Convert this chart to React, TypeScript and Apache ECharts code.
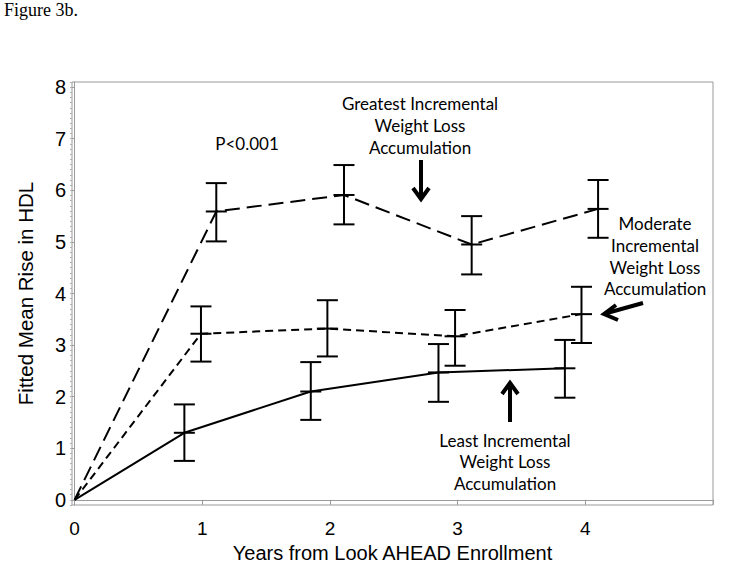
import React, { useEffect, useRef } from "react";
import * as echarts from "echarts";

// Years (x, slightly offset per group as in the original), fitted means and 95% limits
const greatestX = [1.11, 2.11, 3.11, 4.1];
const greatestMean = [5.59, 5.91, 4.95, 5.64];
const greatestLow = [5.01, 5.34, 4.37, 5.08];
const greatestHigh = [6.14, 6.49, 5.5, 6.2];

const moderateX = [0.99, 1.98, 2.98, 3.97];
const moderateMean = [3.22, 3.32, 3.17, 3.6];
const moderateLow = [2.68, 2.78, 2.6, 3.04];
const moderateHigh = [3.75, 3.87, 3.68, 4.13];

const leastX = [0.86, 1.85, 2.85, 3.84];
const leastMean = [1.3, 2.1, 2.47, 2.55];
const leastLow = [0.755, 1.55, 1.9, 1.98];
const leastHigh = [1.85, 2.67, 3.02, 3.1];

const xTicks = [0, 1, 2, 3, 4, 5];
const xLabels = [0, 1, 2, 3, 4];
const yTicks = [0, 1, 2, 3, 4, 5, 6, 7, 8];

const lineData = (xs: number[], ms: number[]) => [[0, 0], ...xs.map((x, i) => [x, ms[i]])];
const barData = (xs: number[], lo: number[], hi: number[], ms: number[]) =>
  xs.map((x, i) => [x, lo[i], hi[i], ms[i]]);

const renderBar = (params: any, api: any) => {
  const x = api.value(0);
  const top = api.coord([x, api.value(2)]);
  const bot = api.coord([x, api.value(1)]);
  const mid = api.coord([x, api.value(3)]);
  const hw = 10.5;
  const st = { stroke: "#000", lineWidth: 2 };
  return {
    type: "group",
    children: [
      { type: "line", shape: { x1: top[0], y1: top[1], x2: bot[0], y2: bot[1] }, style: st },
      { type: "line", shape: { x1: top[0] - hw, y1: top[1], x2: top[0] + hw, y2: top[1] }, style: st },
      { type: "line", shape: { x1: bot[0] - hw, y1: bot[1], x2: bot[0] + hw, y2: bot[1] }, style: st },
      { type: "line", shape: { x1: mid[0] - hw, y1: mid[1], x2: mid[0] + hw, y2: mid[1] }, style: st },
    ],
  };
};

const annFont = "Lato, 'Open Sans', sans-serif";
const ann = (text: string, x: number, y: number) => ({
  type: "text",
  x,
  y,
  style: {
    text,
    font: `17px ${annFont}`,
    fill: "#000",
    textAlign: "center",
    textVerticalAlign: "middle",
  },
});

export default function App() {
  const ref = useRef<HTMLDivElement>(null);
  useEffect(() => {
    if (!ref.current) return;
    const chart = echarts.init(ref.current, null, { renderer: "svg" });
    const axisFont = { fontFamily: "'Liberation Sans', Arial, sans-serif", color: "#000", fontSize: 19 };
    chart.setOption({
      animation: false,
      backgroundColor: "#fff",
      grid: { left: 72, right: 16, top: 82, bottom: 77, show: true, borderColor: "#9a9a9a", borderWidth: 1 },
      xAxis: {
        type: "value",
        min: -0.02,
        max: 5,
        name: "Years from Look AHEAD Enrollment",
        nameLocation: "middle",
        nameGap: 38,
        nameTextStyle: { ...axisFont, fontSize: 20 },
        axisLine: { lineStyle: { color: "#9a9a9a" } },
        axisTick: { customValues: xTicks, length: 5, lineStyle: { color: "#9a9a9a" } },
        axisLabel: { customValues: xLabels, ...axisFont, margin: 14 },
        splitLine: { show: false },
      },
      yAxis: [
        {
          type: "value",
          min: -0.1,
          max: 8.1,
          name: "Fitted Mean Rise in HDL",
          nameLocation: "middle",
          nameGap: 36,
          nameTextStyle: { ...axisFont, fontSize: 20.5 },
          axisLine: { show: true, lineStyle: { color: "#9a9a9a" } },
          axisTick: { show: true, customValues: yTicks, length: 4, lineStyle: { color: "#9a9a9a" } },
          axisLabel: { customValues: yTicks, ...axisFont, fontSize: 20, margin: 6 },
          splitLine: { show: false },
        },
        {
          type: "value",
          min: -0.1,
          max: 8.1,
          interval: 0.1,
          position: "left",
          axisLine: { show: false },
          axisTick: { show: true, length: 2, lineStyle: { color: "#b0b0b0" } },
          axisLabel: { show: false },
          splitLine: { show: false },
        },
      ],
      series: [
        {
          type: "line",
          data: lineData(greatestX, greatestMean),
          symbol: "none",
          lineStyle: { color: "#000", width: 2, type: [15, 7] },
        },
        {
          type: "line",
          data: lineData(moderateX, moderateMean),
          symbol: "none",
          lineStyle: { color: "#000", width: 2, type: [8, 5] },
        },
        {
          type: "line",
          data: lineData(leastX, leastMean),
          symbol: "none",
          lineStyle: { color: "#000", width: 2, type: "solid" },
        },
        { type: "custom", data: barData(greatestX, greatestLow, greatestHigh, greatestMean), renderItem: renderBar },
        { type: "custom", data: barData(moderateX, moderateLow, moderateHigh, moderateMean), renderItem: renderBar },
        { type: "custom", data: barData(leastX, leastLow, leastHigh, leastMean), renderItem: renderBar },
      ],
      graphic: [
        {
          type: "text",
          x: 4,
          y: 1,
          style: { text: "Figure 3b.", font: "18px 'Liberation Serif', serif", fill: "#000" },
        },
        ann("P<0.001", 247, 143),
        ann("Greatest Incremental", 420, 103),
        ann("Weight Loss", 420, 125),
        ann("Accumulation", 420, 147),
        ann("Moderate", 655, 223),
        ann("Incremental", 655, 245),
        ann("Weight Loss", 655, 267),
        ann("Accumulation", 655, 288),
        ann("Least Incremental", 505, 440),
        ann("Weight Loss", 505, 461),
        ann("Accumulation", 505, 483),
        { type: "line", shape: { x1: 421, y1: 160, x2: 421, y2: 196 }, style: { stroke: "#000", lineWidth: 4 } },
        { type: "polyline", shape: { points: [[413, 188], [421, 199], [429, 188]] }, style: { stroke: "#000", lineWidth: 4, fill: null } },
        { type: "line", shape: { x1: 643, y1: 303, x2: 607, y2: 313 }, style: { stroke: "#000", lineWidth: 4 } },
        { type: "polyline", shape: { points: [[616, 305], [604, 314], [618, 320]] }, style: { stroke: "#000", lineWidth: 4, fill: null } },
        { type: "line", shape: { x1: 510, y1: 422, x2: 510, y2: 386 }, style: { stroke: "#000", lineWidth: 4 } },
        { type: "polyline", shape: { points: [[502, 394], [510, 383], [518, 394]] }, style: { stroke: "#000", lineWidth: 4, fill: null } },
      ],
    });
    return () => chart.dispose();
  }, []);
  return <div ref={ref} style={{ position: "absolute", left: 0, top: 0, width: 729, height: 582 }} />;
}
